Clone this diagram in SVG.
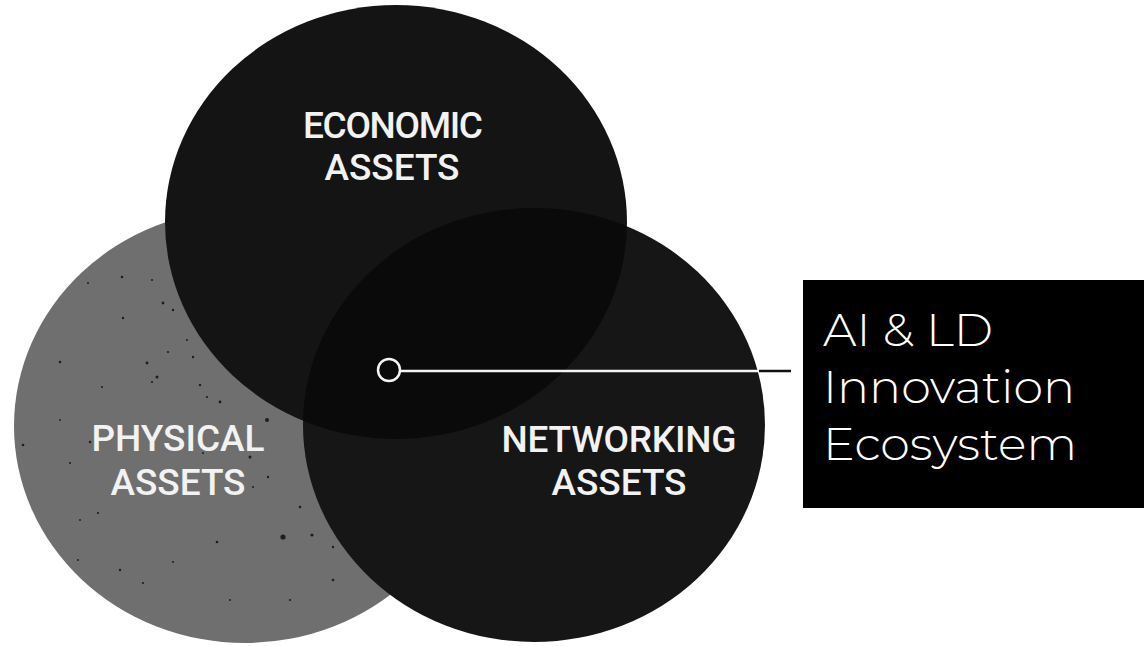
<svg xmlns="http://www.w3.org/2000/svg" width="1144" height="646" viewBox="0 0 1144 646">
  <style>
    .asset { font-family: "Roboto", "DejaVu Sans Condensed", sans-serif; font-weight: 500; font-size: 37px; fill: #f2f2f2; text-anchor: middle; }
    .label { font-family: "Montserrat", "Inter", "Lato", sans-serif; font-weight: 300; font-size: 46px; fill: #ffffff; }
    .speck { fill: #1e1e1e; }
  </style>
  <defs>
    <clipPath id="clipEconomic">
      <ellipse cx="396" cy="222" rx="231" ry="217"/>
    </clipPath>
  </defs>
  <rect width="1144" height="646" fill="#ffffff"/>

  <!-- Physical assets -->
  <g id="physical">
    <ellipse cx="245" cy="426" rx="231" ry="217" fill="#6f6f6f"/>
    <g class="speck">
      <circle cx="122" cy="277" r="1.3"/><circle cx="88" cy="283" r="1"/>
      <circle cx="163" cy="303" r="1.4"/><circle cx="173" cy="310" r="1.2"/>
      <circle cx="123" cy="318" r="1.2"/><circle cx="60" cy="362" r="1.3"/>
      <circle cx="147" cy="363" r="1.4"/><circle cx="157" cy="377" r="1.5"/>
      <circle cx="152" cy="382" r="1.1"/><circle cx="102" cy="387" r="1"/>
      <circle cx="200" cy="385" r="1.2"/><circle cx="220" cy="402" r="1.4"/>
      <circle cx="267" cy="420" r="2"/><circle cx="90" cy="442" r="1.2"/>
      <circle cx="23" cy="445" r="1.3"/><circle cx="250" cy="457" r="1.5"/>
      <circle cx="268" cy="477" r="1.2"/><circle cx="70" cy="463" r="1"/>
      <circle cx="283" cy="537" r="2.6"/><circle cx="312" cy="535" r="1.6"/>
      <circle cx="217" cy="542" r="1.3"/><circle cx="98" cy="513" r="1.1"/>
      <circle cx="120" cy="570" r="1.2"/><circle cx="173" cy="562" r="1"/>
      <circle cx="333" cy="580" r="1.3"/><circle cx="193" cy="357" r="1.2"/>
      <circle cx="168" cy="352" r="1.1"/><circle cx="187" cy="340" r="1"/>
      <circle cx="152" cy="280" r="1"/><circle cx="233" cy="427" r="1.1"/>
      <circle cx="203" cy="453" r="1"/><circle cx="330" cy="467" r="1.2"/>
      <circle cx="300" cy="507" r="1.3"/><circle cx="253" cy="487" r="1"/>
      <circle cx="143" cy="583" r="1.1"/><circle cx="333" cy="547" r="1.2"/>
      <circle cx="78" cy="560" r="1"/><circle cx="207" cy="397" r="1.1"/>
      <circle cx="60" cy="420" r="0.9"/><circle cx="230" cy="600" r="1"/>
      <circle cx="290" cy="600" r="1.1"/><circle cx="80" cy="520" r="0.9"/>
    </g>
    <text class="asset" x="178" y="451" textLength="173" lengthAdjust="spacing">PHYSICAL</text>
    <text class="asset" x="178" y="495" textLength="135" lengthAdjust="spacing">ASSETS</text>
  </g>

  <!-- Economic assets -->
  <g id="economic">
    <ellipse cx="396" cy="222" rx="231" ry="217" fill="#141414"/>
    <text class="asset" x="393" y="138" textLength="180" lengthAdjust="spacing">ECONOMIC</text>
    <text class="asset" x="392" y="180" textLength="135" lengthAdjust="spacing">ASSETS</text>
  </g>

  <!-- Networking assets -->
  <g id="networking">
    <ellipse cx="534" cy="425" rx="231" ry="217" fill="#161616"/>
    <ellipse cx="534" cy="425" rx="231" ry="217" fill="#0a0a0a" clip-path="url(#clipEconomic)"/>
    <text class="asset" x="619" y="452" textLength="235" lengthAdjust="spacing">NETWORKING</text>
    <text class="asset" x="619" y="495" textLength="135" lengthAdjust="spacing">ASSETS</text>
  </g>

  <!-- Ecosystem label -->
  <g id="ecosystem">
    <rect x="803" y="280" width="341" height="228" fill="#000000"/>
    <text class="label" x="823" y="346" textLength="170" lengthAdjust="spacingAndGlyphs">AI &amp; LD</text>
    <text class="label" x="823" y="403" textLength="252" lengthAdjust="spacingAndGlyphs">Innovation</text>
    <text class="label" x="823" y="460" textLength="254" lengthAdjust="spacingAndGlyphs">Ecosystem</text>
  </g>

  <!-- Connector from the shared centre to the label -->
  <g id="connectors">
    <line x1="400" y1="371" x2="759" y2="371" stroke="#f4f4f4" stroke-width="2.5"/>
    <line x1="759" y1="371" x2="791" y2="371" stroke="#111111" stroke-width="2.5"/>
    <circle cx="389" cy="370" r="11" fill="#0a0a0a" stroke="#f4f4f4" stroke-width="2.5"/>
  </g>
</svg>
